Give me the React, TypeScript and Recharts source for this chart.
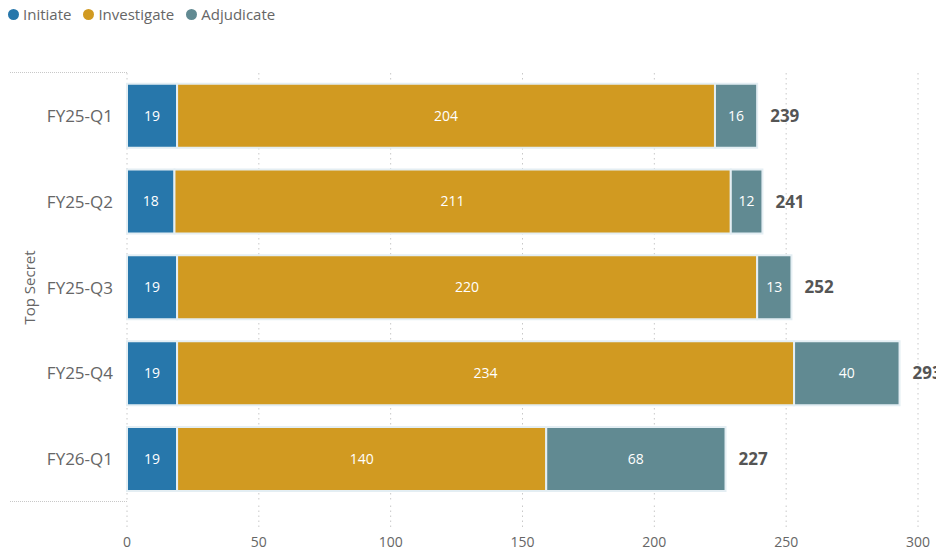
import React from "react";
import {
  BarChart,
  Bar,
  XAxis,
  YAxis,
  CartesianGrid,
  LabelList,
} from "recharts";

// quarters shown on the y axis
const quarters = ["FY25-Q1", "FY25-Q2", "FY25-Q3", "FY25-Q4", "FY26-Q1"];

// stage counts per quarter
const initiate = [19, 18, 19, 19, 19];
const investigate = [204, 211, 220, 234, 140];
const adjudicate = [16, 12, 13, 40, 68];

const xTicks = [0, 50, 100, 150, 200, 250, 300];

const series = [
  { key: "Initiate", color: "#2777AB" },
  { key: "Investigate", color: "#D19A21" },
  { key: "Adjudicate", color: "#618A92" },
];

const data = quarters.map((q, i) => ({
  quarter: q,
  Initiate: initiate[i],
  Investigate: investigate[i],
  Adjudicate: adjudicate[i],
  total: initiate[i] + investigate[i] + adjudicate[i],
}));

const FONT = "'Segoe UI', 'Open Sans', 'Noto Sans', sans-serif";
const dotted = "#c8c8c8";

const App = () => {
  return (
    <div
      style={{
        position: "fixed",
        left: 0,
        top: 0,
        width: 936,
        height: 552,
        background: "#fff",
        fontFamily: FONT,
      }}
    >
      {/* legend */}
      <div
        style={{
          position: "absolute",
          left: 8,
          top: 4,
          display: "flex",
          alignItems: "center",
          fontSize: 15,
          color: "#666",
        }}
      >
        {series.map((s) => (
          <div key={s.key} style={{ display: "flex", alignItems: "center", marginRight: 12 }}>
            <span
              style={{
                width: 11,
                height: 11,
                borderRadius: 6,
                background: s.color,
                display: "inline-block",
                marginRight: 4,
              }}
            />
            {s.key}
          </div>
        ))}
      </div>

      {/* dotted band lines left of the axis */}
      <div
        style={{
          position: "absolute",
          left: 10,
          top: 72,
          width: 117,
          borderTop: `1.5px dotted ${dotted}`,
        }}
      />
      <div
        style={{
          position: "absolute",
          left: 10,
          top: 501,
          width: 117,
          borderTop: `1.5px dotted ${dotted}`,
        }}
      />

      <BarChart
        width={936}
        height={552}
        data={data}
        layout="vertical"
        barCategoryGap="12.5%"
        margin={{ top: 73, right: 18, left: 0, bottom: 5 }}
      >
        <CartesianGrid
          horizontal={false}
          stroke={dotted}
          strokeDasharray="1.5 3.5"
        />
        <XAxis
          type="number"
          domain={[0, 300]}
          ticks={xTicks}
          axisLine={false}
          tickSize={25}
          tickMargin={10}
          tickLine={{ stroke: dotted, strokeDasharray: "1.5 3.5" }}
          height={45}
          tick={{ fill: "#666", fontSize: 14, fontFamily: FONT }}
        />
        <YAxis
          type="category"
          dataKey="quarter"
          width={127}
          axisLine={false}
          tickLine={false}
          tickMargin={8}
          tick={{ fill: "#666", fontSize: 17, fontFamily: FONT }}
          label={{
            value: "Top Secret",
            angle: -90,
            position: "insideLeft",
            offset: 30,
            style: { textAnchor: "middle", fill: "#666", fontSize: 15, fontFamily: FONT },
          }}
        />
        {series.map((s, idx) => (
          <Bar
            key={s.key}
            dataKey={s.key}
            stackId="a"
            fill={s.color}
            stroke="#e4eef3"
            strokeWidth={2}
            isAnimationActive={false}
          >
            <LabelList
              dataKey={s.key}
              position="center"
              fill="#fff"
              fontSize={14}
              fontFamily={FONT}
            />
            {idx === series.length - 1 && (
              <LabelList
                dataKey="total"
                position="right"
                offset={13}
                fill="#555"
                fontSize={17}
                fontWeight={700}
                fontFamily={FONT}
              />
            )}
          </Bar>
        ))}
      </BarChart>
    </div>
  );
};

export default App;
